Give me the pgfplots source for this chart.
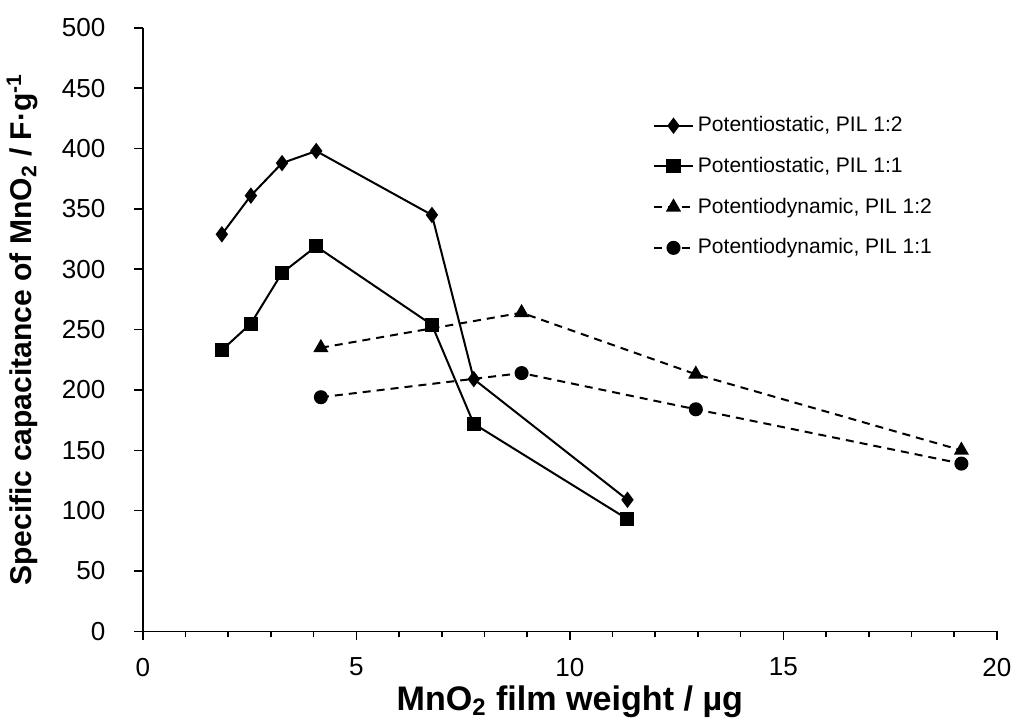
\documentclass[border={0pt 0pt 0pt 6pt}]{standalone}
\usepackage{fontspec}
\setmainfont{Liberation Sans}
\usepackage{pgfplots}
\pgfplotsset{compat=1.18}
\begin{document}
\begin{tikzpicture}
\begin{axis}[
  width=426pt, height=301pt, scale only axis,
  xmin=0, xmax=20, ymin=0, ymax=500,
  axis lines*=left,
  xtick={0,5,...,20}, ytick={0,50,...,500},
  minor x tick num=4,
  tick align=outside,
  major tick length=4.2pt, minor tick length=3pt,
  every tick/.style={black, line width=0.8pt},
  axis line style={line width=0.8pt},
  ticklabel style={font=\fontsize{13}{15}\selectfont},
  yticklabel style={xshift=-11pt},
  xticklabel style={yshift=-5.5pt},
  /pgf/number format/assume math mode=true,
  xlabel={\fontsize{17}{19}\selectfont\bfseries MnO\textsubscript{2} film weight / µg},
  ylabel={\fontsize{15}{17}\selectfont\bfseries Specific capacitance of MnO\textsubscript{2} / F·g\textsuperscript{-1}},
  xlabel style={yshift=2pt},
  ylabel style={yshift=5pt},
  legend style={at={(0.590,0.867)}, anchor=north west, draw=none, fill=none,
    font=\fontsize{10.5}{12}\selectfont, row sep=7.2pt},
  legend cell align=left,
  legend image code/.code={
    \draw[mark repeat=2,mark phase=2,#1] plot coordinates {(0cm,0cm) (0.34cm,0cm) (0.68cm,0cm)};
  },
  clip=false,
]
\addplot[black, line width=1pt, mark=diamond*, mark size=3.3pt, mark options={solid}]
  coordinates {(1.85,329) (2.53,361) (3.26,388) (4.06,398) (6.77,345) (7.75,209) (11.35,109)};
\addlegendentry{Potentiostatic, PIL 1:2}
\addplot[black, line width=1pt, mark=square*, mark size=3pt, mark options={solid}]
  coordinates {(1.85,233) (2.53,255) (3.26,297) (4.06,319) (6.77,254) (7.75,172) (11.35,93)};
\addlegendentry{Potentiostatic, PIL 1:1}
\addplot[black, line width=1pt, dash pattern=on 4pt off 3pt, mark=triangle*, mark size=3.4pt, mark options={solid}]
  coordinates {(4.17,235) (8.87,264) (12.95,213) (19.17,150)};
\addlegendentry{Potentiodynamic, PIL 1:2}
\addplot[black, line width=1pt, dash pattern=on 4pt off 3pt, mark=*, mark size=3pt, mark options={solid}]
  coordinates {(4.17,194) (8.87,214) (12.95,184) (19.17,139)};
\addlegendentry{Potentiodynamic, PIL 1:1}
\end{axis}
\end{tikzpicture}
\end{document}
